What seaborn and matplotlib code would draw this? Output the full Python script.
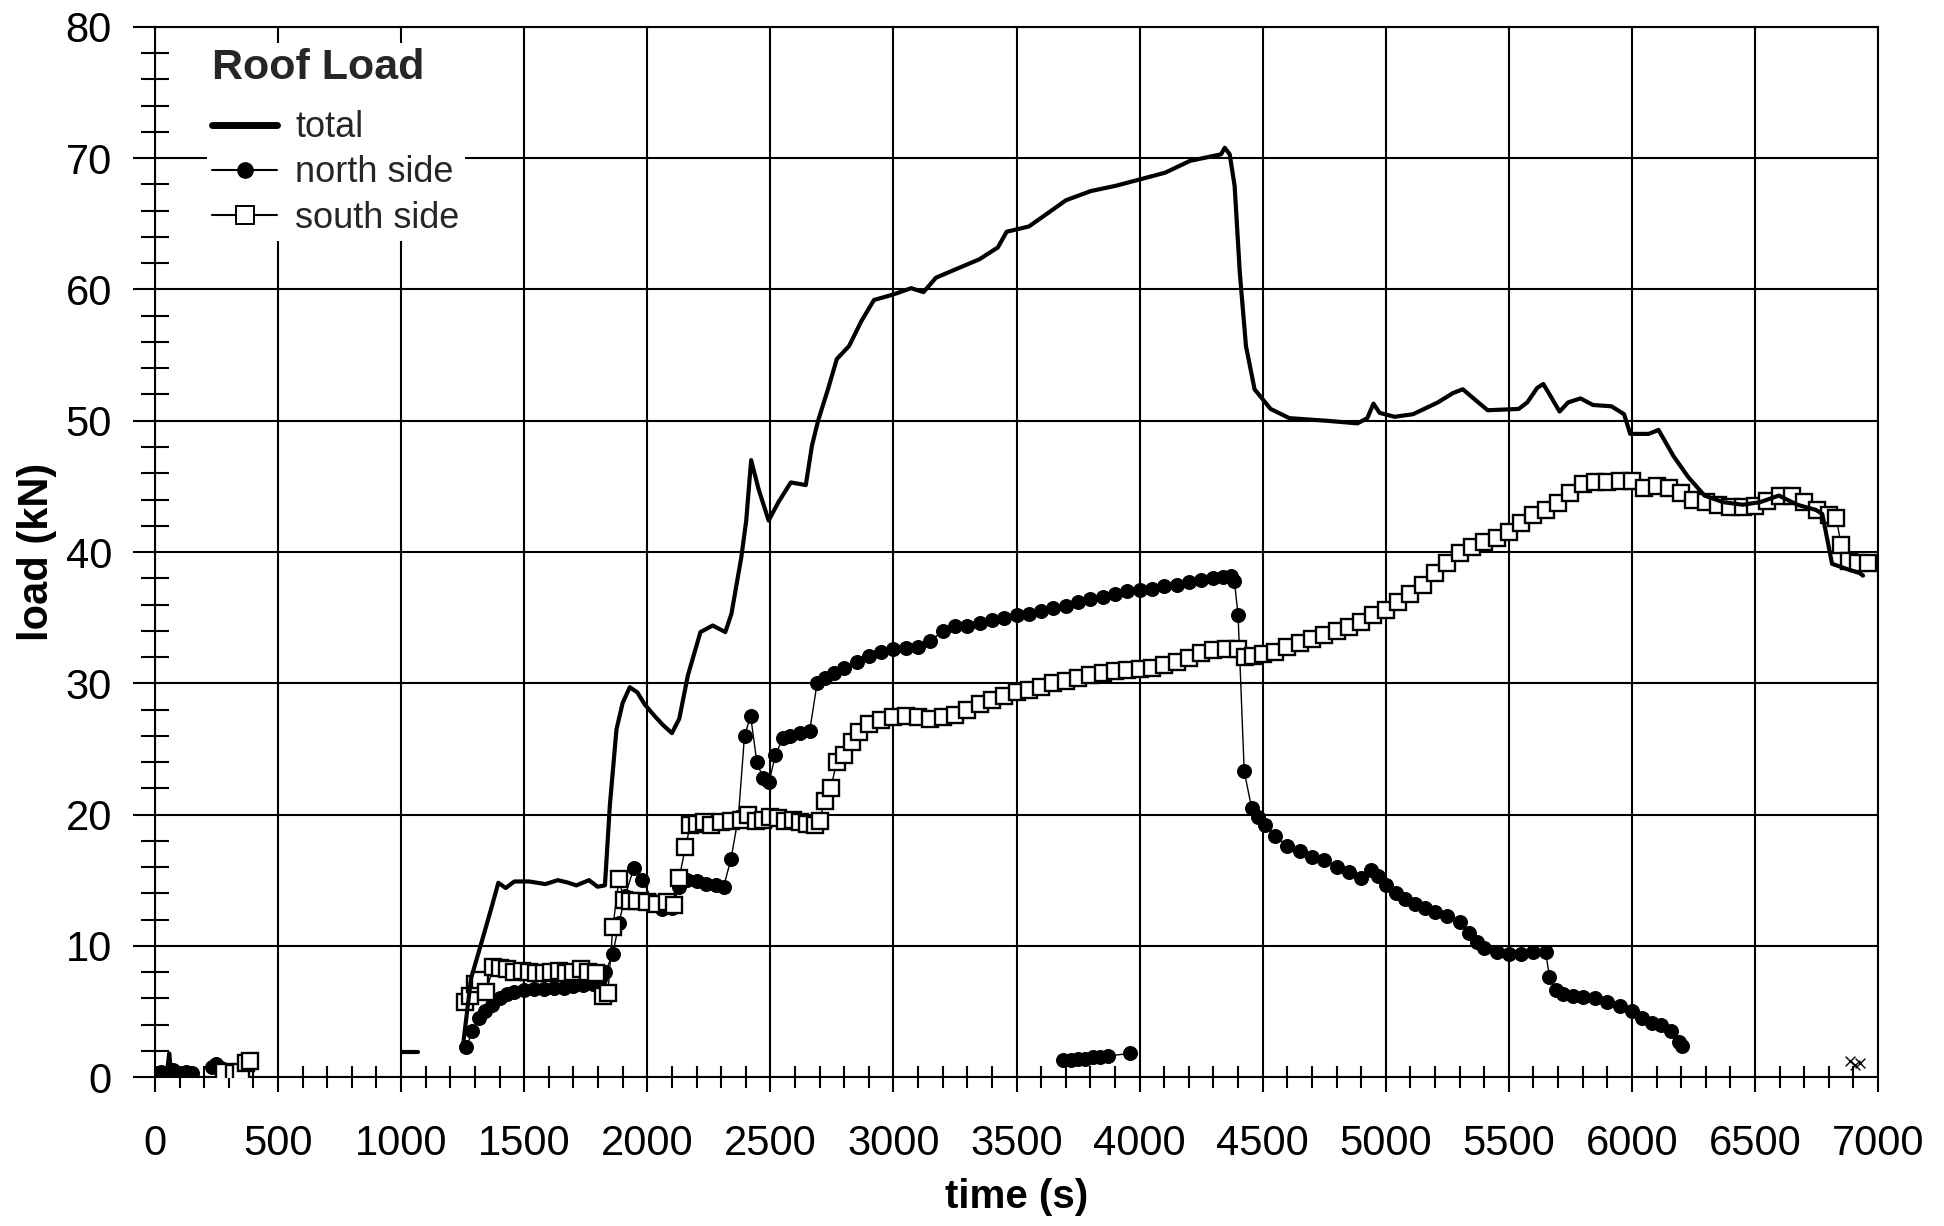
import matplotlib
matplotlib.use("Agg")
import matplotlib.pyplot as plt
import pandas as pd
import seaborn as sns
from matplotlib.lines import Line2D
from matplotlib.ticker import MultipleLocator

# ---------------- data (time in s, load in kN) ----------------
total_start = [(20, 0.2), (50, 0.5), (58, 1.8), (66, 0.3), (150, 0.3)]
total_stub = [(1005, 1.9), (1070, 1.9)]
total_main = [
    (1249, 2.0), (1284, 7.5), (1335, 10.8), (1370, 13.1), (1395, 14.8), (1425, 14.4),
    (1460, 14.9), (1520, 14.9), (1586, 14.7), (1637, 15.0), (1680, 14.8), (1712, 14.6),
    (1763, 15.0), (1798, 14.5), (1828, 14.6), (1848, 20.7), (1875, 26.5), (1900, 28.5),
    (1929, 29.7), (1960, 29.3), (1989, 28.4), (2030, 27.5), (2065, 26.8), (2100, 26.2),
    (2130, 27.3), (2165, 30.6), (2216, 33.9), (2266, 34.4), (2317, 33.9), (2342, 35.3),
    (2382, 39.6), (2402, 42.4), (2422, 47.0), (2452, 44.8), (2493, 42.4), (2533, 43.8),
    (2583, 45.3), (2644, 45.1), (2669, 48.1), (2694, 50.0), (2734, 52.4), (2770, 54.7),
    (2820, 55.7), (2870, 57.6), (2921, 59.2), (2996, 59.6), (3072, 60.1), (3122, 59.8),
    (3173, 60.9), (3248, 61.5), (3349, 62.3), (3424, 63.2), (3460, 64.4), (3550, 64.8),
    (3626, 65.8), (3701, 66.8), (3802, 67.5), (3903, 67.9), (4004, 68.4), (4104, 68.9),
    (4205, 69.8), (4281, 70.1), (4331, 70.3), (4346, 70.8), (4366, 70.3), (4386, 67.9),
    (4407, 61.3), (4432, 55.7), (4467, 52.4), (4532, 50.9), (4608, 50.2), (4759, 50.0),
    (4885, 49.8), (4925, 50.2), (4950, 51.3), (4975, 50.6), (5036, 50.3), (5111, 50.5),
    (5212, 51.4), (5272, 52.1), (5313, 52.4), (5363, 51.6), (5414, 50.8), (5540, 50.9),
    (5575, 51.4), (5615, 52.5), (5640, 52.8), (5675, 51.7), (5706, 50.7), (5741, 51.4),
    (5791, 51.7), (5842, 51.2), (5917, 51.1), (5968, 50.5), (5993, 49.0), (6068, 49.0),
    (6108, 49.3), (6169, 47.3), (6229, 45.7), (6295, 44.3), (6370, 43.8), (6450, 43.6),
    (6521, 43.8), (6597, 44.3), (6672, 43.6), (6748, 43.2), (6773, 42.9), (6788, 41.5),
    (6813, 39.1), (6874, 38.7), (6924, 38.4), (6939, 38.2),
]

north_start = [(0, 0.3), (25, 0.4), (50, 0.3), (75, 0.5), (100, 0.3), (125, 0.4), (150, 0.3)]
north_early = [(230, 0.8), (250, 1.0), (270, 0.7)]
north_main = [
    (1265, 2.3), (1290, 3.5), (1315, 4.5), (1340, 5.0), (1370, 5.5), (1400, 6.0),
    (1430, 6.3), (1460, 6.5), (1500, 6.6), (1540, 6.7), (1580, 6.7), (1620, 6.8),
    (1660, 6.8), (1700, 6.9), (1740, 7.0), (1780, 7.1), (1810, 7.5), (1830, 8.0),
    (1860, 9.4), (1885, 11.7), (1910, 13.8), (1945, 15.9), (1980, 15.0), (2020, 13.5),
    (2060, 12.8), (2100, 12.9), (2130, 14.5), (2160, 15.0), (2200, 14.9), (2240, 14.7),
    (2280, 14.6), (2310, 14.5), (2340, 16.6), (2370, 19.8), (2395, 26.0), (2420, 27.5),
    (2445, 24.0), (2470, 22.8), (2495, 22.5), (2520, 24.5), (2550, 25.8), (2580, 26.0),
    (2620, 26.2), (2660, 26.4), (2690, 30.0), (2720, 30.4), (2760, 30.8), (2800, 31.2),
    (2850, 31.6), (2900, 32.1), (2950, 32.4), (3000, 32.6), (3050, 32.7), (3100, 32.8),
    (3150, 33.2), (3200, 34.0), (3250, 34.4), (3300, 34.4), (3350, 34.6), (3400, 34.8),
    (3450, 35.0), (3500, 35.2), (3550, 35.3), (3600, 35.5), (3650, 35.7), (3700, 35.9),
    (3750, 36.2), (3800, 36.4), (3850, 36.6), (3900, 36.8), (3950, 37.0), (4000, 37.1),
    (4050, 37.2), (4100, 37.4), (4150, 37.5), (4200, 37.7), (4250, 37.9), (4300, 38.0),
    (4340, 38.1), (4370, 38.2), (4385, 37.8), (4400, 35.2), (4425, 23.3), (4455, 20.5),
    (4480, 19.8), (4510, 19.2), (4550, 18.4), (4600, 17.6), (4650, 17.2), (4700, 16.8),
    (4750, 16.5), (4800, 16.0), (4850, 15.6), (4900, 15.2), (4940, 15.8), (4970, 15.3),
    (5000, 14.6), (5040, 14.0), (5080, 13.6), (5120, 13.2), (5160, 12.9), (5200, 12.6),
    (5250, 12.3), (5300, 11.8), (5340, 11.0), (5370, 10.3), (5400, 9.8), (5450, 9.5),
    (5500, 9.4), (5550, 9.4), (5600, 9.5), (5650, 9.5), (5665, 7.6), (5690, 6.6),
    (5720, 6.3), (5760, 6.2), (5800, 6.1), (5850, 6.0), (5900, 5.7), (5950, 5.4),
    (6000, 5.0), (6040, 4.5), (6080, 4.1), (6120, 4.0), (6160, 3.5), (6190, 2.7),
    (6205, 2.4),
]
north_low = [(3690, 1.3), (3720, 1.3), (3750, 1.4), (3780, 1.4), (3810, 1.5),
             (3840, 1.5), (3870, 1.6), (3960, 1.8)]

south_early = [(280, 0.4), (320, 0.3), (350, 0.4), (370, 1.1), (385, 1.2)]
south_main = [
    (1260, 5.7), (1280, 6.2), (1300, 7.1), (1320, 7.4), (1345, 6.5), (1375, 8.4),
    (1400, 8.3), (1430, 8.2), (1460, 8.0), (1490, 8.1), (1520, 8.0), (1550, 7.9),
    (1580, 7.9), (1610, 8.0), (1640, 8.1), (1670, 7.9), (1700, 8.0), (1730, 8.2),
    (1760, 8.0), (1790, 7.9), (1820, 6.2), (1840, 6.4), (1860, 11.4), (1885, 15.1),
    (1905, 13.5), (1930, 13.4), (1960, 13.4), (2000, 13.3), (2040, 13.2), (2080, 13.3),
    (2110, 13.1), (2130, 15.2), (2155, 17.5), (2175, 19.2), (2200, 19.3), (2230, 19.4),
    (2260, 19.2), (2300, 19.4), (2340, 19.5), (2380, 19.6), (2410, 20.0), (2440, 19.5),
    (2470, 19.6), (2500, 19.8), (2530, 19.7), (2560, 19.5), (2590, 19.6), (2620, 19.4),
    (2650, 19.3), (2680, 19.2), (2700, 19.5), (2720, 21.0), (2745, 22.0), (2770, 24.0),
    (2800, 24.5), (2830, 25.5), (2860, 26.3), (2900, 26.9), (2950, 27.2), (3000, 27.4),
    (3050, 27.5), (3100, 27.4), (3150, 27.3), (3200, 27.4), (3250, 27.6), (3300, 28.0),
    (3350, 28.4), (3400, 28.7), (3450, 29.0), (3500, 29.3), (3550, 29.5), (3600, 29.7),
    (3650, 30.0), (3700, 30.2), (3750, 30.4), (3800, 30.6), (3850, 30.8), (3900, 30.9),
    (3950, 31.0), (4000, 31.1), (4050, 31.2), (4100, 31.4), (4150, 31.6), (4200, 31.9),
    (4250, 32.3), (4300, 32.5), (4350, 32.6), (4400, 32.6), (4430, 32.0), (4460, 32.1),
    (4500, 32.2), (4550, 32.4), (4600, 32.8), (4650, 33.1), (4700, 33.4), (4750, 33.7),
    (4800, 34.0), (4850, 34.3), (4900, 34.7), (4950, 35.2), (5000, 35.6), (5050, 36.2),
    (5100, 36.8), (5150, 37.5), (5200, 38.4), (5250, 39.2), (5300, 39.9), (5350, 40.4),
    (5400, 40.8), (5450, 41.1), (5500, 41.5), (5550, 42.2), (5600, 42.8), (5650, 43.2),
    (5700, 43.7), (5750, 44.5), (5800, 45.2), (5850, 45.3), (5900, 45.3), (5950, 45.4),
    (6000, 45.4), (6050, 44.9), (6100, 45.0), (6150, 44.9), (6200, 44.5), (6250, 44.0),
    (6300, 43.8), (6350, 43.6), (6400, 43.4), (6450, 43.4), (6500, 43.5), (6550, 43.9),
    (6600, 44.3), (6650, 44.3), (6700, 43.8), (6750, 43.2), (6800, 42.8), (6830, 42.6),
    (6850, 40.5), (6880, 39.3), (6920, 39.2), (6960, 39.2),
]

stray_time = [6885, 6905, 6925]
stray_load = [1.2, 0.9, 1.1]

x_ticks = [0, 500, 1000, 1500, 2000, 2500, 3000, 3500, 4000, 4500, 5000, 5500, 6000, 6500, 7000]
y_ticks = [0, 10, 20, 30, 40, 50, 60, 70, 80]
legend_labels = ["total", "north side", "south side"]


def frame(segments):
    rows = []
    for k, seg in enumerate(segments):
        for t, v in seg:
            rows.append((k, t, v))
    return pd.DataFrame(rows, columns=["seg", "time", "load"])


total_df = frame([total_start, total_stub, total_main])
north_df = frame([north_start, north_early, north_main, north_low])
south_df = frame([south_early, south_main])

# ---------------- figure ----------------
sns.set_theme(style="white")
plt.rcParams["font.family"] = ["Liberation Sans", "DejaVu Sans"]

fig = plt.figure(figsize=(19.44, 12.26), dpi=100)
ax = fig.add_axes([0.0797, 0.1215, 0.8864, 0.8565])

sns.lineplot(data=north_df, x="time", y="load", units="seg", estimator=None, sort=False,
             color="black", linewidth=1.0, marker="o", markersize=10,
             markerfacecolor="black", markeredgecolor="black", ax=ax, zorder=3)
sns.lineplot(data=south_df, x="time", y="load", units="seg", estimator=None, sort=False,
             color="black", linewidth=1.0, marker="s", markersize=12,
             markerfacecolor="white", markeredgecolor="black", markeredgewidth=1.7,
             ax=ax, zorder=3)
sns.lineplot(data=total_df, x="time", y="load", units="seg", estimator=None, sort=False,
             color="black", linewidth=3.0, ax=ax, zorder=4)
sns.scatterplot(x=stray_time, y=stray_load, marker="x", s=50, color="black",
                linewidth=1.0, ax=ax, zorder=4)

ax.set_xlim(0, 7000)
ax.set_ylim(0, 80)
ax.set_xticks(x_ticks)
ax.set_yticks(y_ticks)
ax.xaxis.set_minor_locator(MultipleLocator(100))
ax.yaxis.set_minor_locator(MultipleLocator(2))
ax.grid(True, which="major", color="black", linewidth=1.5)
ax.set_axisbelow(True)
for s in ax.spines.values():
    s.set_color("black")
    s.set_linewidth(1.5)

ax.tick_params(axis="x", which="both", bottom=True, top=False)
ax.tick_params(axis="y", which="both", left=True, right=False)
ax.tick_params(axis="x", which="major", direction="out", length=11, width=1.5,
               pad=23, labelsize=30, colors="black")
ax.tick_params(axis="x", which="minor", direction="inout", length=16, width=1.5,
               colors="black")
ax.tick_params(axis="y", which="major", direction="out", length=16, width=1.5,
               pad=15, labelsize=30, colors="black")
ax.tick_params(axis="y", which="minor", direction="inout", length=20, width=1.5,
               colors="black")

ax.set_xlabel("time (s)", fontsize=29, fontweight="bold", color="black", labelpad=10)
ax.set_ylabel("load (kN)", fontsize=30, fontweight="bold", color="black", labelpad=6)

handles = [
    Line2D([], [], color="black", linewidth=5),
    Line2D([], [], color="black", linewidth=1.5, marker="o", markersize=11,
           markerfacecolor="black"),
    Line2D([], [], color="black", linewidth=1.5, marker="s", markersize=13,
           markerfacecolor="white", markeredgewidth=1.4),
]
leg = ax.legend(handles, legend_labels, title="Roof Load", loc="upper left",
                bbox_to_anchor=(0.03, 0.985), borderaxespad=0, frameon=True,
                fancybox=False, facecolor="white", edgecolor="none", framealpha=1,
                fontsize=26, title_fontproperties={"weight": "bold", "size": 31},
                alignment="left", handlelength=1.8, handletextpad=0.5,
                labelspacing=0.28, borderpad=0.15)
leg._legend_box.sep = 16
leg.set_zorder(10)

fig.savefig("out.png", dpi=100)
